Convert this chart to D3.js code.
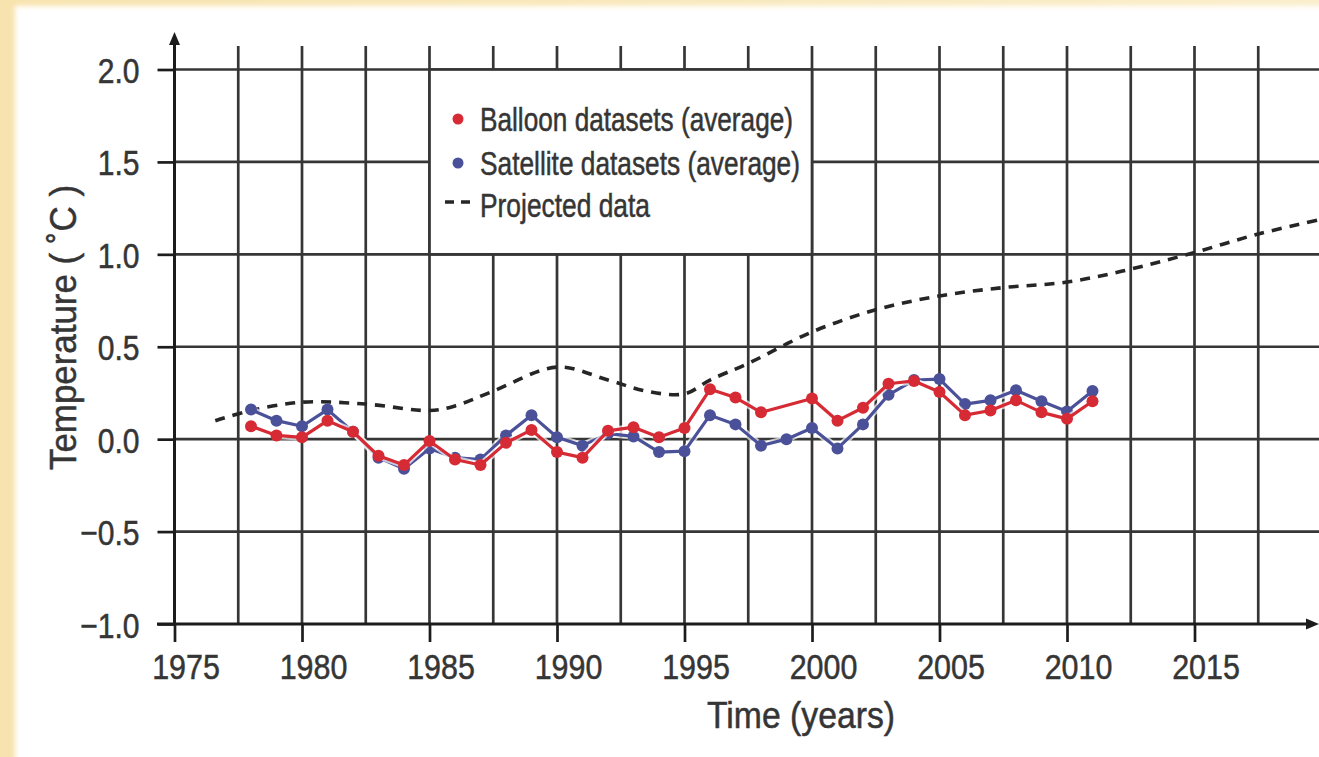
<!DOCTYPE html>
<html>
<head>
<meta charset="utf-8">
<script src="https://cdn.jsdelivr.net/npm/d3@7/dist/d3.min.js"></script>
<style>
  html, body { margin: 0; padding: 0; background: #ffffff; }
  svg { display: block; }
  text { font-family: "Liberation Sans Narrow", "Liberation Sans", Arial, sans-serif; }
</style>
</head>
<body>
<svg id="chart" width="1319" height="757"></svg>
<script>
// ---------------- DATA ----------------
const years = [1978,1979,1980,1981,1982,1983,1984,1985,1986,1987,1988,1989,1990,1991,1992,1993,1994,1995,1996,1997,1998,1999,2000,2001,2002,2003,2004,2005,2006,2007,2008,2009,2010,2011];
const balloon = [0.07,0.02,0.01,0.10,0.04,-0.09,-0.14,-0.01,-0.11,-0.14,-0.02,0.05,-0.07,-0.10,0.045,0.065,0.01,0.06,0.27,0.225,0.145,null,0.22,0.10,0.17,0.30,0.315,0.255,0.13,0.155,0.21,0.145,0.11,0.205];
const satellite = [0.16,0.10,0.07,0.16,0.04,-0.10,-0.16,-0.05,-0.10,-0.11,0.02,0.13,0.01,-0.035,0.03,0.015,-0.07,-0.065,0.13,0.08,-0.035,0.0,0.06,-0.05,0.08,0.24,0.32,0.325,0.19,0.21,0.265,0.205,0.15,0.26];
const projYears = [1976.6,1978,1980,1982.5,1985,1986,1987.5,1990,1992,1993.5,1995,1996,1997.5,2000,2002.5,2005,2007.5,2010,2012.5,2015,2017.5,2020];
const projValues = [0.10,0.155,0.20,0.19,0.155,0.18,0.26,0.39,0.32,0.26,0.245,0.32,0.41,0.58,0.70,0.775,0.82,0.85,0.92,1.01,1.11,1.19];
const xTickYears = [1975,1980,1985,1990,1995,2000,2005,2010,2015];
const xGridYears = [1977.5,1980,1982.5,1985,1987.5,1990,1992.5,1995,1997.5,2000,2002.5,2005,2007.5,2010,2012.5,2015,2017.5];
const yTickValues = [-1.0,-0.5,0.0,0.5,1.0,1.5,2.0];
const legendLabels = ["Balloon datasets (average)", "Satellite datasets (average)", "Projected data"];
const xTitle = "Time (years)";
const yTitle = "Temperature ( ˚C )";

// ---------------- LAYOUT ----------------
const W = 1319, H = 757;
const svg = d3.select("#chart");
const x = d3.scaleLinear().domain([1975, 2020]).range([174.5, 1322]);
const y = d3.scaleLinear().domain([-1, 2]).range([624, 69.5]);
const gridColor = "#363636", axisColor = "#1c1c1c", textColor = "#353535";
const red = "#d62a34", blue = "#4b5199";

// background frame
const defs = svg.append("defs");
const f = defs.append("filter").attr("id","soft").attr("x","-5%").attr("y","-5%").attr("width","110%").attr("height","110%");
f.append("feGaussianBlur").attr("stdDeviation", 2.5);
const lg = defs.append("linearGradient").attr("id","cream").attr("x1","0").attr("x2","1").attr("y1","0").attr("y2","0");
lg.append("stop").attr("offset","0").attr("stop-color","#f7e3ae");
lg.append("stop").attr("offset","1").attr("stop-color","#faeecb");
svg.append("rect").attr("width", W).attr("height", H).attr("fill", "url(#cream)");
svg.append("rect").attr("x", 15).attr("y", 6).attr("width", W + 20).attr("height", H + 20)
  .attr("fill", "#ffffff").attr("filter", "url(#soft)");

// vertical grid lines
svg.append("g").selectAll("line").data(xGridYears).join("line")
  .attr("x1", d => x(d)).attr("x2", d => x(d))
  .attr("y1", 46).attr("y2", y(-1))
  .attr("stroke", gridColor).attr("stroke-width", 2.7);

// horizontal grid lines
svg.append("g").selectAll("line").data(yTickValues.filter(v => v > -1)).join("line")
  .attr("x1", x(1975)).attr("x2", W)
  .attr("y1", d => y(d)).attr("y2", d => y(d))
  .attr("stroke", gridColor).attr("stroke-width", 2.7);

// legend box (covers the grid cells between 1985–2000 and 1.0–2.0)
svg.append("rect")
  .attr("x", x(1985)).attr("y", y(2.0))
  .attr("width", x(2000) - x(1985)).attr("height", y(1.0) - y(2.0))
  .attr("fill", "#ffffff").attr("stroke", gridColor).attr("stroke-width", 2.7);

// X axis (ticks + labels via d3.axisBottom)
const xAxis = d3.axisBottom(x).tickValues(xTickYears).tickSize(18).tickFormat(d3.format("d"));
const gx = svg.append("g").attr("transform", `translate(0,${y(-1)})`).call(xAxis);
gx.select(".domain").remove();
gx.selectAll(".tick line").attr("stroke", axisColor).attr("stroke-width", 2.7);
gx.selectAll(".tick text")
  .attr("y", 0).attr("dy", 0)
  .attr("transform", "translate(11,55) scale(0.87,1)")
  .attr("fill", textColor).attr("stroke", textColor).attr("stroke-width", 0.5)
  .style("font-size", "35px")
  .style("font-family", "'Liberation Sans Narrow', 'Liberation Sans', sans-serif");

// Y axis (ticks + labels via d3.axisLeft)
const fmtY = v => (v < 0 ? "\u2212" : "") + Math.abs(v).toFixed(1);
const yAxis = d3.axisLeft(y).tickValues(yTickValues).tickSize(17).tickFormat(fmtY);
const gy = svg.append("g").attr("transform", `translate(${x(1975)},0)`).call(yAxis);
gy.select(".domain").remove();
gy.selectAll(".tick line").attr("stroke", axisColor).attr("stroke-width", 2.7);
gy.selectAll(".tick text")
  .attr("x", 0).attr("dy", 0).attr("y", 0)
  .attr("text-anchor", "end")
  .attr("transform", "translate(-35,13) scale(0.86,1)")
  .attr("fill", textColor).attr("stroke", textColor).attr("stroke-width", 0.5)
  .style("font-size", "35px")
  .style("font-family", "'Liberation Sans Narrow', 'Liberation Sans', sans-serif");

// main axis lines with arrows
svg.append("line").attr("x1", x(1975)).attr("x2", x(1975)).attr("y1", 42).attr("y2", y(-1) + 1)
  .attr("stroke", axisColor).attr("stroke-width", 3);
svg.append("path")
  .attr("d", `M${x(1975)},32 L${x(1975) - 5.5},45 L${x(1975) + 5.5},45 Z`)
  .attr("fill", axisColor);
svg.append("line").attr("x1", 157).attr("x2", 1308).attr("y1", y(-1)).attr("y2", y(-1))
  .attr("stroke", axisColor).attr("stroke-width", 3);
svg.append("path")
  .attr("d", `M1319,${y(-1)} L1306,${y(-1) - 5.5} L1306,${y(-1) + 5.5} Z`)
  .attr("fill", axisColor);

// projected dashed line
const projData = projYears.map((yr, i) => ({ yr, v: projValues[i] }));
svg.append("path")
  .datum(projData)
  .attr("d", d3.line().x(d => x(d.yr)).y(d => y(d.v)).curve(d3.curveCatmullRom.alpha(0.5)))
  .attr("fill", "none").attr("stroke", "#262626").attr("stroke-width", 3.6)
  .attr("stroke-dasharray", "10,8");

// data series
function series(values, color) {
  const pts = years.map((yr, i) => ({ yr, v: values[i] })).filter(d => d.v !== null);
  const line = d3.line().x(d => x(d.yr)).y(d => y(d.v));
  const g = svg.append("g");
  g.append("path").datum(pts).attr("d", line)
    .attr("fill", "none").attr("stroke", "#ffffff").attr("stroke-opacity", 0.7)
    .attr("stroke-width", 7).attr("stroke-linejoin", "round");
  g.append("path").datum(pts).attr("d", line)
    .attr("fill", "none").attr("stroke", color).attr("stroke-width", 3.2)
    .attr("stroke-linejoin", "round");
  g.selectAll("circle").data(pts).join("circle")
    .attr("cx", d => x(d.yr)).attr("cy", d => y(d.v)).attr("r", 6)
    .attr("fill", color);
}
series(satellite, blue);
series(balloon, red);

// legend contents
const lgX = 480;
const lgBase = [131, 175, 217];
const lgWidths = [313, 320, 170];
svg.append("g").selectAll("text").data(legendLabels).join("text")
  .attr("x", lgX).attr("y", (d, i) => lgBase[i])
  .attr("textLength", (d, i) => lgWidths[i]).attr("lengthAdjust", "spacingAndGlyphs")
  .attr("fill", textColor).attr("stroke", textColor).attr("stroke-width", 0.5)
  .style("font-size", "32.5px")
  .text(d => d);
svg.append("circle").attr("cx", 458).attr("cy", 119).attr("r", 5.5).attr("fill", red);
svg.append("circle").attr("cx", 458).attr("cy", 163).attr("r", 5.5).attr("fill", blue);
svg.append("line").attr("x1", 445).attr("x2", 474).attr("y1", 202).attr("y2", 202)
  .attr("stroke", "#262626").attr("stroke-width", 3.6).attr("stroke-dasharray", "9,7");

// axis titles
svg.append("text").attr("x", 801).attr("y", 728).attr("text-anchor", "middle")
  .attr("textLength", 188).attr("lengthAdjust", "spacingAndGlyphs")
  .attr("fill", textColor).attr("stroke", textColor).attr("stroke-width", 0.5)
  .style("font-size", "36px").text(xTitle);
svg.append("text").attr("transform", "translate(76,327.5) rotate(-90)")
  .attr("text-anchor", "middle")
  .attr("textLength", 285).attr("lengthAdjust", "spacingAndGlyphs")
  .attr("fill", textColor).attr("stroke", textColor).attr("stroke-width", 0.5)
  .style("font-size", "37px").text(yTitle);
</script>
</body>
</html>
